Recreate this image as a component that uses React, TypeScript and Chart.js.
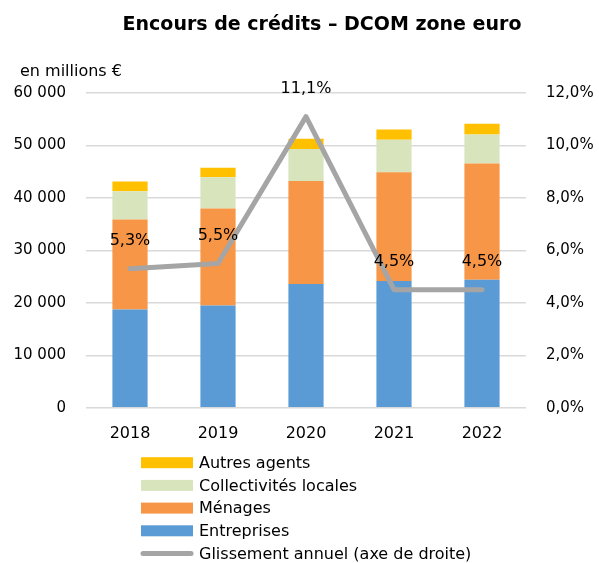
import React, { useEffect, useRef } from "react";
import { Chart, registerables } from "chart.js";

Chart.register(...registerables);

const categories = ["2018", "2019", "2020", "2021", "2022"];
const entreprises = [18700, 19500, 23600, 24150, 24400];
const menages = [17200, 18500, 19600, 20750, 22150];
const collectivites = [5350, 5950, 6100, 6200, 5550];
const autresAgents = [1900, 1800, 2000, 1950, 2050];
const glissement = [5.3, 5.5, 11.1, 4.5, 4.5];

const leftTicks = [0, 10000, 20000, 30000, 40000, 50000, 60000];
const rightTicks = [0, 2, 4, 6, 8, 10, 12];

const FONT = "'DejaVu Sans', sans-serif";
const TITLE = "Encours de crédits – DCOM zone euro";
const UNIT = "en millions €";

const fmtThousands = (v: number) =>
  v === 0 ? "0" : String(v).replace(/\B(?=(\d{3})+(?!\d))/g, " ");
const fmtPct = (v: number) => v.toFixed(1).replace(".", ",") + "%";

const decorPlugin = {
  id: "decor",
  afterDatasetsDraw(chart: any) {
    const ctx = chart.ctx;
    const lineIdx = chart.data.datasets.findIndex((d: any) => d.type === "line");
    const meta = chart.getDatasetMeta(lineIdx);
    ctx.save();
    ctx.fillStyle = "#000";
    ctx.font = `16px ${FONT}`;
    ctx.textAlign = "center";
    ctx.textBaseline = "middle";
    meta.data.forEach((pt: any, i: number) => {
      ctx.fillText(fmtPct(glissement[i]), pt.x, pt.y - 28);
    });
    ctx.restore();
  },
  afterDraw(chart: any) {
    const ctx = chart.ctx;
    ctx.save();
    ctx.fillStyle = "#000";
    ctx.font = `bold 19px ${FONT}`;
    ctx.textAlign = "center";
    ctx.textBaseline = "middle";
    ctx.fillText(TITLE, 322, 25);
    ctx.font = `16px ${FONT}`;
    ctx.textAlign = "left";
    ctx.fillText(UNIT, 20, 72);
    const ds = chart.data.datasets;
    const order = [3, 2, 1, 0, 4];
    order.forEach((idx, row) => {
      const d = ds[idx];
      const y = 462.7 + row * 22.7;
      if (d.type === "line") {
        ctx.strokeStyle = d.borderColor;
        ctx.lineWidth = 5;
        ctx.lineCap = "round";
        ctx.beginPath();
        ctx.moveTo(143, y);
        ctx.lineTo(191, y);
        ctx.stroke();
      } else {
        ctx.fillStyle = d.backgroundColor;
        ctx.fillRect(141, y - 5.5, 52, 11);
      }
      ctx.fillStyle = "#000";
      ctx.font = `16px ${FONT}`;
      ctx.textAlign = "left";
      ctx.textBaseline = "middle";
      ctx.fillText(d.label, 199, y + 1);
    });
    ctx.restore();
  },
};

export default function App() {
  const ref = useRef<HTMLCanvasElement>(null);
  useEffect(() => {
    if (!ref.current) return;
    const chart = new Chart(ref.current, {
      type: "bar",
      data: {
        labels: categories,
        datasets: [
          { type: "bar", label: "Entreprises", data: entreprises, backgroundColor: "#5B9BD5", yAxisID: "y", order: 1, stack: "s" },
          { type: "bar", label: "Ménages", data: menages, backgroundColor: "#F79646", yAxisID: "y", order: 1, stack: "s" },
          { type: "bar", label: "Collectivités locales", data: collectivites, backgroundColor: "#D8E4BC", yAxisID: "y", order: 1, stack: "s" },
          { type: "bar", label: "Autres agents", data: autresAgents, backgroundColor: "#FFC000", yAxisID: "y", order: 1, stack: "s" },
          {
            type: "line",
            label: "Glissement annuel (axe de droite)",
            data: glissement,
            borderColor: "#A5A5A5",
            backgroundColor: "#A5A5A5",
            borderWidth: 5,
            pointRadius: 0,
            tension: 0,
            borderCapStyle: "round",
            borderJoinStyle: "round",
            yAxisID: "y2",
            order: 0,
          } as any,
        ],
      },
      options: {
        responsive: false,
        animation: false,
        layout: { padding: { top: 93, bottom: 0, left: 0, right: 0 } },
        datasets: { bar: { barPercentage: 0.4, categoryPercentage: 1 } },
        plugins: {
          legend: { display: false },
          title: { display: false },
          tooltip: { enabled: false },
        },
        scales: {
          x: {
            stacked: true,
            grid: { display: false, drawTicks: false },
            border: { display: false },
            ticks: { color: "#000", font: { family: FONT, size: 16 }, padding: 17 },
            afterFit: (s: any) => { s.height = 563 - 407.7; },
          },
          y: {
            stacked: true,
            position: "left",
            min: 0,
            max: 60000,
            afterBuildTicks: (s: any) => { s.ticks = leftTicks.map((v) => ({ value: v })); },
            grid: { color: "#D9D9D9", lineWidth: 1.5, drawTicks: false },
            border: { display: false },
            ticks: { color: "#000", font: { family: FONT, size: 15 }, padding: 20, callback: (v: any) => fmtThousands(Number(v)) },
            afterFit: (s: any) => { s.width = 86; },
          },
          y2: {
            position: "right",
            min: 0,
            max: 12,
            afterBuildTicks: (s: any) => { s.ticks = rightTicks.map((v) => ({ value: v })); },
            grid: { display: false, drawTicks: false },
            border: { display: false },
            ticks: { color: "#000", font: { family: FONT, size: 15 }, padding: 20, callback: (v: any) => fmtPct(Number(v)) },
            afterFit: (s: any) => { s.width = 599 - 526; },
          },
        },
      },
      plugins: [decorPlugin],
    });
    return () => chart.destroy();
  }, []);
  return (
    <div style={{ position: "absolute", left: 0, top: 0, width: 599, height: 563, background: "#fff" }}>
      <canvas ref={ref} width={599} height={563} style={{ display: "block", width: 599, height: 563 }} />
    </div>
  );
}
